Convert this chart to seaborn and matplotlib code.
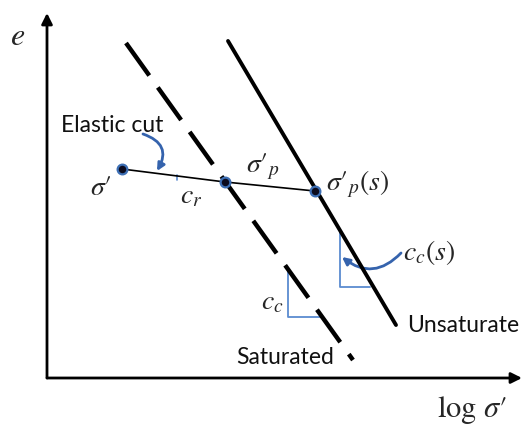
import matplotlib
matplotlib.use("Agg")
import matplotlib.pyplot as plt
import seaborn as sns
import pandas as pd
from matplotlib.patches import FancyArrowPatch

sns.set_theme(style="white")
plt.rcParams['font.family'] = ['Lato', 'DejaVu Sans']
plt.rcParams['mathtext.fontset'] = 'stix'

# Schematic data (x = log sigma', y = e), arbitrary units 0..10
sat_x = [1.663, 6.442]
sat_y = [9.178, 0.493]
unsat_x = [3.811, 7.347]
unsat_y = [9.233, 1.452]
elastic_x = [1.579, 3.747, 5.642]
elastic_y = [5.726, 5.370, 5.123]
point_labels = [r"$\sigma\prime$", r"$\sigma\prime_{p}$", r"$\sigma\prime_{p}(s)$"]
cc_tri_x = [5.074, 5.074, 5.789]
cc_tri_y = [2.979, 1.671, 1.671]
ccs_tri_x = [6.168, 6.168, 6.800]
ccs_tri_y = [4.056, 2.493, 2.493]

BLUE_LINE = '#5b8bd0'
BLUE_ARROW = '#3563ad'

fig = plt.figure(figsize=(5.28, 4.30), dpi=100)
ax = fig.add_axes([47/528, (430-378)/430, 475/528, 365/430])
ax.set_xlim(0, 10)
ax.set_ylim(0, 10)
ax.axis('off')

# axes arrows
for end in [(1.0, 0.0), (0.0, 1.0)]:
    ax.annotate("", xy=end, xytext=(0, 0), xycoords='axes fraction',
                arrowprops=dict(arrowstyle='-|>', lw=2, color='black',
                                mutation_scale=16, shrinkA=0, shrinkB=0))

# triangles (blue)
sns.lineplot(x=cc_tri_x, y=cc_tri_y, sort=False, ax=ax, color=BLUE_LINE, lw=1.3, estimator=None)
sns.lineplot(x=ccs_tri_x, y=ccs_tri_y, sort=False, ax=ax, color=BLUE_LINE, lw=1.3, estimator=None)
ax.plot([2.737, 2.737], [5.55, 5.43], color=BLUE_LINE, lw=1.2)

# saturated (dashed) and unsaturated (solid)
sns.lineplot(x=sat_x, y=sat_y, sort=False, ax=ax, color='black', lw=3.2, estimator=None)
ax.get_lines()[-1].set_dashes([9, 3.3])
ax.get_lines()[-1].set_dash_capstyle('butt')
sns.lineplot(x=unsat_x, y=unsat_y, sort=False, ax=ax, color='black', lw=2.8, estimator=None)

# elastic cut line
sns.lineplot(x=elastic_x, y=elastic_y, sort=False, ax=ax, color='black', lw=1.2, estimator=None)
ax.plot(elastic_x, elastic_y, linestyle='none', marker='o', markersize=7,
        markerfacecolor='#0b0b1e', markeredgecolor='#3d6fb5', markeredgewidth=1.6, zorder=5)

# labels
fs_math = 20
ax.text(1.137, 5.233, point_labels[0], fontsize=fs_math, ha='center', va='center')
ax.text(4.55, 5.80, point_labels[1], fontsize=fs_math, ha='center', va='center')
ax.text(5.874, 5.30, point_labels[2], fontsize=fs_math, ha='left', va='center')
ax.text(3.032, 4.98, r"$c_r$", fontsize=fs_math, ha='center', va='center')
ax.text(4.737, 2.08, r"$c_c$", fontsize=fs_math, ha='center', va='center')
ax.text(7.495, 3.45, r"$c_c(s)$", fontsize=fs_math, ha='left', va='center')

ax.text(1.368, 6.93, "Elastic cut", fontsize=16.5, ha='center', va='center', color='#111111')
ax.text(7.579, 1.452, "Unsaturate", fontsize=16.5, ha='left', va='center', color='#111111', clip_on=False)
ax.text(5.021, 0.575, "Saturated", fontsize=16.5, ha='center', va='center', color='#111111')

ax.text(-0.611, 9.37, r"$e$", fontsize=23, ha='center', va='center', clip_on=False)
ax.text(8.947, -0.877, r"$\log\,\sigma\prime$", fontsize=22, ha='center', va='center', clip_on=False)

# curved blue arrows
a1 = FancyArrowPatch((2.021, 6.685), (2.316, 5.671), connectionstyle='arc3,rad=-0.6',
                     arrowstyle='-|>', mutation_scale=11, lw=2, color=BLUE_ARROW,
                     shrinkA=0, shrinkB=0)
ax.add_patch(a1)
a2 = FancyArrowPatch((7.453, 3.425), (6.211, 3.315), connectionstyle='arc3,rad=-0.45',
                     arrowstyle='-|>', mutation_scale=11, lw=2, color=BLUE_ARROW,
                     shrinkA=0, shrinkB=0)
ax.add_patch(a2)

fig.savefig("out.png", dpi=100)
